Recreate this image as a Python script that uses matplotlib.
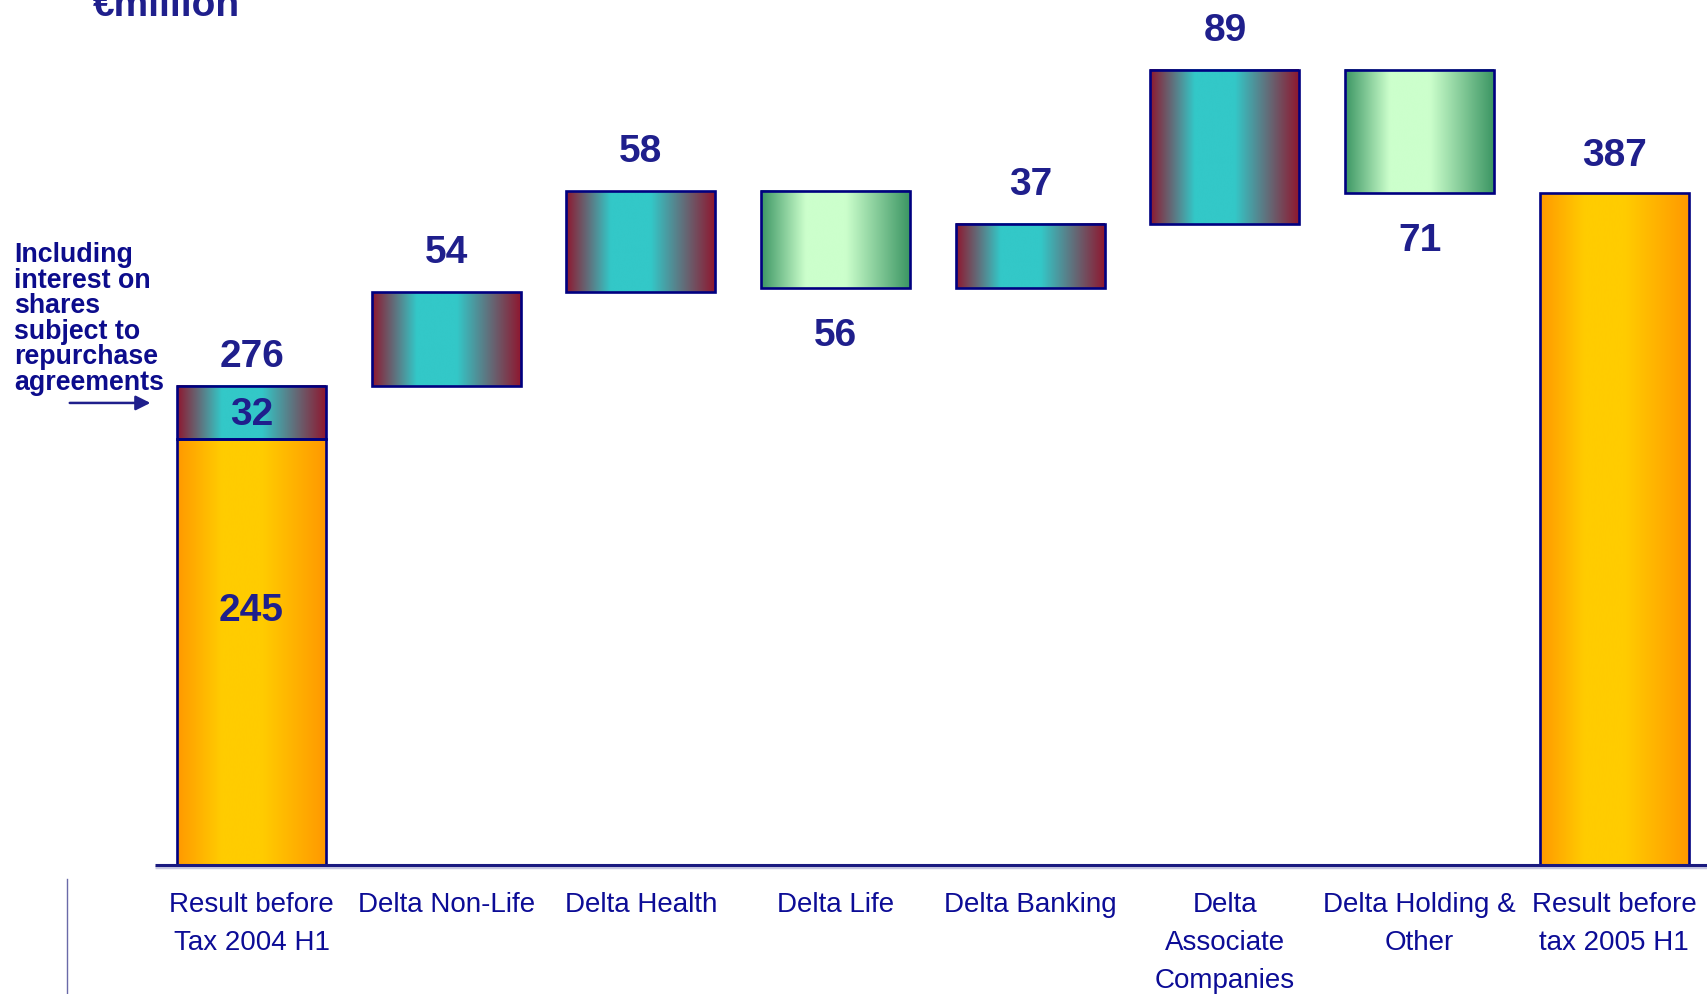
import numpy as np
import matplotlib
matplotlib.use("Agg")
import matplotlib.pyplot as plt
from matplotlib.patches import Rectangle
from matplotlib.colors import LinearSegmentedColormap

# data
categories = ['Result before\nTax 2004 H1', 'Delta Non-Life', 'Delta Health', 'Delta Life',
              'Delta Banking', 'Delta\nAssociate\nCompanies', 'Delta Holding &\nOther',
              'Result before\ntax 2005 H1']
start_base = 245
start_repurchase = 32
start_total = 276
deltas = [54, 58, -56, 37, 89, -71]
end_total = 387

txt = '#1f1f8c'
navy = '#000080'

# gradient maps (horizontal)
stops = [0, 0.3, 0.57, 1]
def grad(edge, mid):
    return LinearSegmentedColormap.from_list('g', list(zip(stops, [edge, mid, mid, edge])))

cm_red = grad('#8e1830', '#33c8c8')
cm_green = grad('#3c9664', '#ccffcc')
cm_orange = grad('#ff9900', '#ffcc00')

fig = plt.figure(figsize=(17.07, 9.95), dpi=100)
ax = fig.add_axes([0, 0, 1, 1])
ax.axis('off')

w = 0.765
ramp = np.linspace(0, 1, 256).reshape(1, -1)

def bar(x, y0, y1, cmap):
    lo, hi = min(y0, y1), max(y0, y1)
    ax.imshow(ramp, cmap=cmap, extent=[x - w/2, x + w/2, lo, hi], aspect='auto',
              interpolation='bicubic', zorder=2)
    ax.add_patch(Rectangle((x - w/2, lo), w, hi - lo, fill=False, ec=navy, lw=1.9, zorder=3))

vfont = dict(family='Liberation Sans', fontsize=28, fontweight='bold', color=txt,
             ha='center', va='center')

# first bar: base + repurchase interest
bar(0, 0, start_base, cm_orange)
bar(0, start_base, start_total, cm_red)
ax.text(0, 147, str(start_base), **vfont)
ax.text(0, (start_base + start_total) / 2 - 1, str(start_repurchase), **vfont)
ax.text(0, start_total + 17, str(start_total), **vfont)

# deltas
run = start_total
for i, d in enumerate(deltas, start=1):
    new = run + d
    if d > 0:
        bar(i, run, new, cm_red)
        ax.text(i, new + 23, str(abs(d)), **vfont)
    else:
        bar(i, run, new, cm_green)
        ax.text(i, new - 27, str(abs(d)), **vfont)
    run = new

# end bar
n = len(categories) - 1
bar(n, 0, end_total, cm_orange)
ax.text(n, end_total + 22, str(end_total), **vfont)

# baseline
ax.plot([-0.497, 7.6], [-1.2, -1.2], color='#c8c8e0', lw=2.5, zorder=1, solid_capstyle='butt')
ax.plot([-0.497, 7.6], [0, 0], color='#1a1a80', lw=2.2, zorder=4, solid_capstyle='butt')

# category labels
for i, c in enumerate(categories):
    ax.text(i, -15, c, family='Liberation Sans', fontsize=20,
            color='#0c0c96', ha='center', va='top', linespacing=1.6)

# note with arrow
fig.text(14/1707, 1 - 242/995, 'Including\ninterest on\nshares\nsubject to\nrepurchase\nagreements',
         family='Liberation Sans', fontsize=19.3, fontweight='bold', color='#0c0c8c',
         ha='left', va='top', linespacing=0.98)
ax.annotate('', xy=(-0.505, 266), xytext=(-0.948, 266),
            arrowprops=dict(arrowstyle='-|>', color='#1f1f8c', lw=1.8, mutation_scale=22))

# thin vertical line bottom-left
ax.plot([-0.948, -0.948], [-8.5, -80], color='#6a6aa8', lw=1.0)

fig.text(93/1707, 1 - 16/995, '€million', family='Liberation Sans', fontsize=28,
         fontweight='bold', color=txt, ha='left', va='baseline')

ax.set_xlim(-1.292, 7.476)
ax.set_ylim(-74.5, 498.7)

fig.savefig('out.png', dpi=100)
